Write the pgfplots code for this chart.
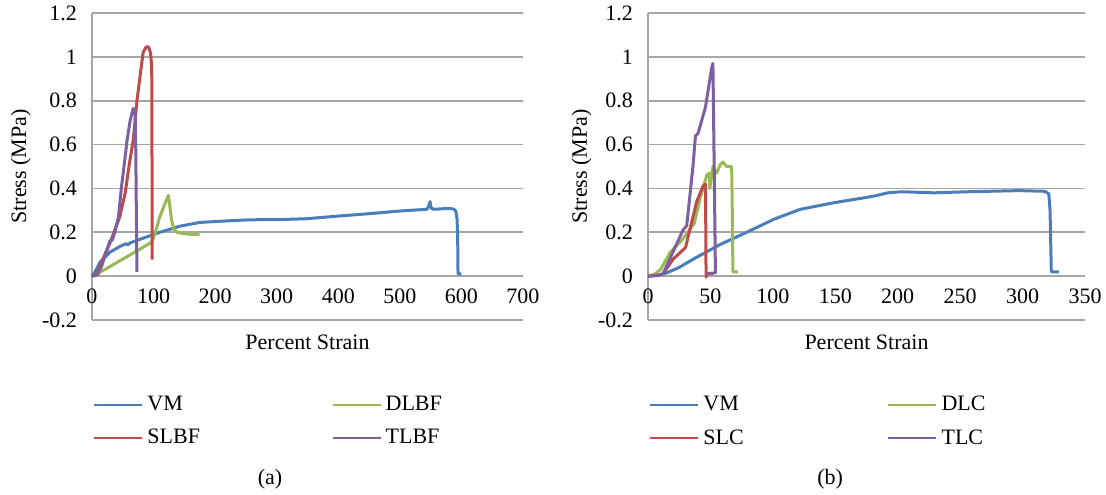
\documentclass[border=0pt]{standalone}
\usepackage{fontspec}
\setmainfont{Liberation Serif}
\usepackage{pgfplots}
\pgfplotsset{compat=1.18}

\definecolor{cVM}{HTML}{4A7EBB}
\definecolor{cSL}{HTML}{BE4B48}
\definecolor{cDL}{HTML}{98B954}
\definecolor{cTL}{HTML}{7D60A0}
\definecolor{gridc}{HTML}{A6A6A6}

\pgfplotsset{
  stressplot/.style={
    scale only axis,
    height=153.5pt,
    font=\fontsize{11}{13}\selectfont,
    ymin=-0.2, ymax=1.2,
    ytick={-0.2,0,0.2,0.4,0.6,0.8,1,1.2},
    axis y line=left,
    axis x line=middle,
    axis line style={-, draw=gridc, line width=0.8pt},
    ymajorgrids,
    major grid style={draw=gridc, line width=0.8pt},
    major tick length=0pt,
    hide obscured x ticks=false,
    hide obscured y ticks=false,
    /pgf/number format/assume math mode=true,
    xticklabel style={yshift=-3pt},
    yticklabel style={xshift=-4pt},
    xlabel={Percent Strain},
    ylabel={Stress (MPa)},
    xlabel style={at={(axis description cs:0.5,0)}, anchor=center, yshift=-11pt},
    clip=false,
    legend columns=2,
    legend style={draw=none, fill=none, anchor=north west, at={(-0.012,-0.22)},
      row sep=4pt,
      nodes={text width=90pt, align=left, inner sep=2pt}},
    legend image code/.code={\draw[#1, line width=1.1pt] (0pt,0pt) -- (24pt,0pt);},
    every axis plot/.append style={line width=1.5pt, line join=round},
  }
}

\begin{document}
\begin{tikzpicture}
\useasboundingbox (0,0) rectangle (553pt,-247pt);

% (a)
\begin{axis}[stressplot,
  at={(46pt,-160pt)}, anchor=south west,
  width=215.5pt,
  xmin=0, xmax=700, xtick={0,100,...,700},
  ylabel style={at={(axis description cs:-0.165,0.5)}, anchor=center},
]
\addplot[cVM] coordinates {
 (0,0) (5,0.02) (13,0.063) (29,0.109) (45,0.135) (55,0.148) (58,0.142) (62,0.152)
 (78,0.168) (110,0.2) (143,0.228) (175,0.245) (220,0.252) (256,0.257) (305,0.258)
 (349,0.262) (400,0.274) (450,0.285) (500,0.297) (544,0.305) (547,0.32) (549,0.34)
 (551,0.31) (555,0.305) (581,0.309) (588,0.305) (591,0.295) (593,0.26) (594,0.15)
 (594.5,0.01) (600,0.01)
};
\addplot[cDL] coordinates {
 (0,0) (8,0.005) (13,0.018) (30,0.045) (50,0.078) (70,0.11) (94,0.15) (98,0.16)
 (104,0.21) (110,0.27) (117,0.32) (122,0.355) (124,0.368) (126,0.33) (129,0.26)
 (133,0.215) (138,0.2) (150,0.193) (165,0.19) (175,0.19)
};
\addplot[cSL] coordinates {
 (0,0) (8,0.01) (13,0.045) (21,0.1) (29,0.15) (37,0.21) (45,0.27) (54,0.38)
 (60,0.5) (67,0.62) (73,0.8) (78,0.91) (83,1.02) (88,1.045) (92,1.045) (95,1.02)
 (97,0.955) (97.5,0.5) (97.5,0.075)
};
\addplot[cTL] coordinates {
 (0,0) (8,0.005) (15,0.04) (22,0.1) (29,0.16) (33,0.165) (37,0.2) (43,0.27)
 (48,0.41) (52,0.5) (57,0.62) (62,0.71) (67,0.765) (70,0.75) (71,0.6)
 (72,0.3) (73,0.02)
};
\legend{VM, DLBF, SLBF, TLBF}
\node at (rel axis cs:0.413,-0.52) {(a)};
\end{axis}

% (b)
\begin{axis}[stressplot,
  at={(324pt,-160pt)}, anchor=south west,
  width=218.5pt,
  xmin=0, xmax=350, xtick={0,50,...,350},
  ylabel style={at={(axis description cs:-0.152,0.5)}, anchor=center},
]
\addplot[cVM] coordinates {
 (0,0) (8,0.004) (15,0.015) (25,0.04) (37,0.08) (58,0.145) (79,0.2) (101,0.26)
 (122,0.305) (149,0.335) (176,0.36) (181,0.365) (192,0.38) (203,0.385) (229,0.38)
 (257,0.385) (297,0.39) (318,0.387) (321,0.375) (322,0.3) (323,0.02) (329,0.02)
};
\addplot[cDL] coordinates {
 (0,0) (5,0.008) (10,0.03) (18,0.11) (28,0.17) (37,0.24) (42,0.36) (47,0.46)
 (49,0.47) (49.5,0.4) (52,0.5) (55,0.47) (58,0.51) (60,0.52) (63,0.5) (67,0.5)
 (67.5,0.3) (68,0.02) (72,0.02)
};
\addplot[cSL] coordinates {
 (0,0) (8,0.005) (12,0.01) (20,0.077) (30,0.13) (36,0.27) (39,0.34) (44,0.41)
 (46,0.42) (46.3,0.2) (46.5,-0.005) (47,0.012) (52,0.012)
};
\addplot[cTL] coordinates {
 (0,0) (8,0.003) (12,0.01) (20,0.11) (28,0.21) (31,0.23) (36,0.5) (38,0.64)
 (40,0.65) (46,0.77) (51,0.95) (52,0.97) (53,0.5) (54,0.015) (48,0.012)
};
\legend{VM, DLC, SLC, TLC}
\node at (rel axis cs:0.417,-0.52) {(b)};
\end{axis}
\end{tikzpicture}
\end{document}
